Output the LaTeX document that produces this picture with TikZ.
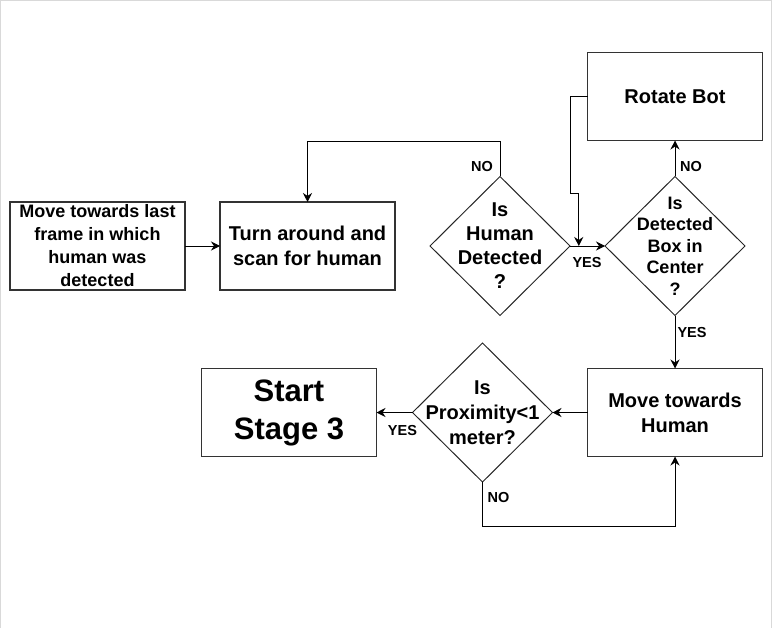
\documentclass[tikz,border=0pt]{standalone}
\usepackage{fontspec}
\setmainfont{Liberation Sans}
\usetikzlibrary{arrows.meta, positioning, shapes.geometric, calc}

\begin{document}
\begin{tikzpicture}[x=1pt, y=-1pt,
      box/.style={draw=black!80, line width=1.3pt, outer sep=0pt, minimum width=175pt, minimum height=88pt, align=center, inner sep=2pt, font=\bfseries\fontsize{20}{25}\selectfont},
      decision/.style={diamond, draw=black!85, line width=1pt, outer sep=0pt, minimum width=140pt, minimum height=139pt, inner sep=0pt},
      dtext/.style={align=center, inner sep=0pt, font=\bfseries\fontsize{20}{24}\selectfont},
      answer/.style={font=\bfseries\fontsize{14.5}{16}\selectfont, inner sep=0pt},
      arrow/.style={-{Stealth[length=9pt, width=9pt, inset=3pt]}, line width=0.9pt, draw=black}
    ]

      % Canvas and frame
      \useasboundingbox (0,0) rectangle (773,628);
      \draw[black!15, line width=1pt] (0.5,628) -- (0.5,0.5) -- (771.5,0.5) -- (771.5,628);

      % Top row
      \node[box, font=\bfseries\fontsize{18}{23}\selectfont] (last_frame) at (97.5,246) {Move towards last\\frame in which\\human was\\detected};
      \node[box, right=35pt of last_frame] (scan) {Turn around and\\scan for human};
      \node[decision, right=35pt of scan,
            label={[dtext]center:Is\\Human\\Detected\\?}] (human_check) {};
      \node[decision, right=35pt of human_check,
            label={[dtext, font=\bfseries\fontsize{18}{21.5}\selectfont]center:Is\\Detected\\Box in\\Center\\?}] (center_check) {};

      % Rotate Bot above the center check
      \node[box, above=36pt of center_check] (rotate) {Rotate Bot};

      % Bottom row
      \node[box, below=53pt of center_check] (approach) {Move towards\\Human};
      \node[decision, left=35pt of approach,
            label={[dtext, font=\bfseries\fontsize{20}{25}\selectfont]center:Is\\Proximity<1\\meter?}] (proximity) {};
      \node[box, left=36pt of proximity, font=\bfseries\fontsize{31}{38}\selectfont] (stage3) {Start\\Stage 3};

      % Merge point between the two decisions
      \coordinate (merge) at ($(human_check.east)!0.25!(center_check.west)$);

      % Arrows - top row
      \draw[arrow] (last_frame.east) -- (scan.west);
      \draw[arrow] (human_check.north) -- ([yshift=35pt]human_check.north) -| (scan.north);
      \draw[arrow] (human_check.east) -- (center_check.west);
      \draw[arrow] (center_check.north) -- (rotate.south);
      \draw[arrow] (rotate.west) -- ++(-17,0) |- ([yshift=53pt]merge) -- (merge);

      % Arrows - bottom row
      \draw[arrow] (center_check.south) -- (approach.north);
      \draw[arrow] (approach.west) -- (proximity.east);
      \draw[arrow] (proximity.west) -- (stage3.east);
      \draw[arrow] (proximity.south) -- ([yshift=-44pt]proximity.south) -| (approach.south);

      % Answer labels
      \node[answer] (no_human) at ([xshift=-18pt, yshift=10pt]human_check.north) {NO};
      \node[answer] (yes_human) at ([xshift=17pt, yshift=-17pt]human_check.east) {YES};
      \node[answer] (no_center) at ([xshift=16pt, yshift=10pt]center_check.north) {NO};
      \node[answer] (yes_center) at ([xshift=17pt, yshift=-17pt]center_check.south) {YES};
      \node[answer] (yes_near) at ([xshift=-10pt, yshift=-18pt]proximity.west) {YES};
      \node[answer] (no_near) at ([xshift=16pt, yshift=-16pt]proximity.south) {NO};

    \end{tikzpicture}
\end{document}
